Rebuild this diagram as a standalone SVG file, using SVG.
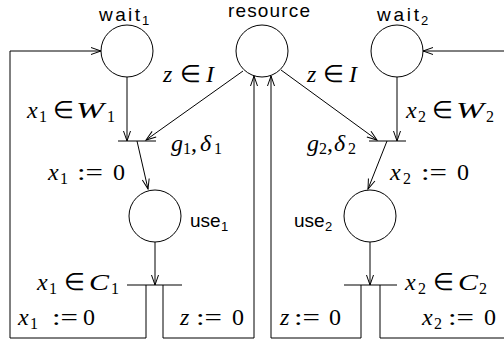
<svg xmlns="http://www.w3.org/2000/svg" width="504" height="343" viewBox="0 0 504 343">
<style>
.n{fill:none;stroke:#000;stroke-width:1}
.c{fill:none;stroke:#000;stroke-width:1}
.bar{stroke:#000;stroke-width:1.2}
.sans{font-family:"Liberation Sans",Arial,sans-serif;font-size:19px;fill:#000}
.ss{font-size:13px}
.m{font-family:"Liberation Serif","Times New Roman",serif;font-size:24px;fill:#000}
.i{font-style:italic}
.ms{font-size:16px}
</style>
<defs>
<marker id="ah" markerUnits="userSpaceOnUse" markerWidth="14" markerHeight="10" refX="0" refY="0" viewBox="-11 -5 12 10" orient="auto">
<path d="M-10,-3.5 L0,0 L-10,3.5" fill="none" stroke="#000" stroke-width="1"/>
</marker>
</defs>
<rect width="504" height="343" fill="#fff"/>
<g id="wait1"><circle class="n" cx="127" cy="51" r="26"/><text class="sans" y="21"><tspan x="99" textLength="41">wait</tspan><tspan class="ss" x="142" y="25">1</tspan></text></g>
<g id="resource"><circle class="n" cx="262" cy="51" r="26"/><text class="sans" x="228" y="17" textLength="82">resource</text></g>
<g id="wait2"><circle class="n" cx="397" cy="51" r="26"/><text class="sans" y="21"><tspan x="377" textLength="42">wait</tspan><tspan class="ss" x="421" y="25">2</tspan></text></g>
<g id="use1"><circle class="n" cx="155" cy="216" r="26"/><text class="sans" y="227"><tspan x="190">use</tspan><tspan class="ss" x="221" y="231">1</tspan></text></g>
<g id="use2"><circle class="n" cx="370" cy="216" r="26"/><text class="sans" y="227"><tspan x="294">use</tspan><tspan class="ss" x="325" y="231">2</tspan></text></g>
<g id="t1"><line class="bar" x1="118" y1="141" x2="156" y2="141"/></g>
<g id="t2"><line class="bar" x1="369" y1="141" x2="406" y2="141"/></g>
<g id="t3"><line class="bar" x1="127" y1="285" x2="182" y2="285"/></g>
<g id="t4"><line class="bar" x1="344" y1="285" x2="397" y2="285"/></g>
<g id="connectors">
<line class="c" x1="127" y1="77" x2="127" y2="141" marker-end="url(#ah)"/>
<line class="c" x1="243" y1="71" x2="146" y2="140" marker-end="url(#ah)"/>
<line class="c" x1="137" y1="141" x2="148" y2="189" marker-end="url(#ah)"/>
<line class="c" x1="155" y1="242" x2="155" y2="285" marker-end="url(#ah)"/>
<polyline class="c" points="146,285 146,338 10,338 10,51 101,51" marker-end="url(#ah)"/>
<polyline class="c" points="163,285 163,338 254,338 254,76" marker-end="url(#ah)"/>
<line class="c" x1="281" y1="70" x2="377" y2="140" marker-end="url(#ah)"/>
<line class="c" x1="397" y1="77" x2="397" y2="141" marker-end="url(#ah)"/>
<line class="c" x1="387" y1="141" x2="368" y2="189" marker-end="url(#ah)"/>
<line class="c" x1="370" y1="242" x2="370" y2="285" marker-end="url(#ah)"/>
<polyline class="c" points="361,285 361,338 271,338 271,76" marker-end="url(#ah)"/>
<polyline class="c" points="380,285 380,338 505,338"/>
<line class="c" x1="505" y1="51" x2="423" y2="51" marker-end="url(#ah)"/>
</g>
<g id="labels">
<text class="m" y="82"><tspan class="i" x="163">z</tspan><tspan x="180">∈</tspan><tspan class="i" x="206">I</tspan></text>
<text class="m" y="82"><tspan class="i" x="307">z</tspan><tspan x="323">∈</tspan><tspan class="i" x="349">I</tspan></text>
<text class="m" y="118"><tspan class="i" x="27">x</tspan><tspan class="ms" x="39" y="122">1</tspan><tspan x="53" y="118">∈</tspan><tspan class="i" x="76" textLength="28" lengthAdjust="spacingAndGlyphs">W</tspan><tspan class="ms" x="107" y="122">1</tspan></text>
<text class="m" y="118"><tspan class="i" x="406">x</tspan><tspan class="ms" x="418" y="122">2</tspan><tspan x="432" y="118">∈</tspan><tspan class="i" x="456" textLength="28" lengthAdjust="spacingAndGlyphs">W</tspan><tspan class="ms" x="486" y="122">2</tspan></text>
<text class="m" y="151"><tspan class="i" x="171">g</tspan><tspan class="ms" x="183" y="154">1</tspan><tspan x="191" y="151">,</tspan><tspan class="i" x="200">δ</tspan><tspan class="ms" x="214" y="154">1</tspan></text>
<text class="m" y="151"><tspan class="i" x="307">g</tspan><tspan class="ms" x="319" y="154">2</tspan><tspan x="327" y="151">,</tspan><tspan class="i" x="334">δ</tspan><tspan class="ms" x="348" y="154">2</tspan></text>
<text class="m" y="180"><tspan class="i" x="48">x</tspan><tspan class="ms" x="60" y="184">1</tspan><tspan x="77" y="180" textLength="26" lengthAdjust="spacingAndGlyphs">:=</tspan><tspan x="113">0</tspan></text>
<text class="m" y="180"><tspan class="i" x="390">x</tspan><tspan class="ms" x="403" y="184">2</tspan><tspan x="421" y="180" textLength="26" lengthAdjust="spacingAndGlyphs">:=</tspan><tspan x="457">0</tspan></text>
<text class="m" y="290"><tspan class="i" x="37">x</tspan><tspan class="ms" x="49" y="294">1</tspan><tspan x="64" y="290">∈</tspan><tspan class="i" x="89" textLength="20" lengthAdjust="spacingAndGlyphs">C</tspan><tspan class="ms" x="111" y="294">1</tspan></text>
<text class="m" y="290"><tspan class="i" x="405">x</tspan><tspan class="ms" x="418" y="294">2</tspan><tspan x="433" y="290">∈</tspan><tspan class="i" x="458" textLength="20" lengthAdjust="spacingAndGlyphs">C</tspan><tspan class="ms" x="479" y="294">2</tspan></text>
<text class="m" y="325"><tspan class="i" x="18">x</tspan><tspan class="ms" x="30" y="329">1</tspan><tspan x="52" y="325" textLength="26" lengthAdjust="spacingAndGlyphs">:=</tspan><tspan x="83">0</tspan></text>
<text class="m" y="325"><tspan class="i" x="180">z</tspan><tspan x="196" textLength="26" lengthAdjust="spacingAndGlyphs">:=</tspan><tspan x="232">0</tspan></text>
<text class="m" y="325"><tspan class="i" x="280">z</tspan><tspan x="294" textLength="26" lengthAdjust="spacingAndGlyphs">:=</tspan><tspan x="329">0</tspan></text>
<text class="m" y="325"><tspan class="i" x="422">x</tspan><tspan class="ms" x="434" y="329">2</tspan><tspan x="448" y="325" textLength="26" lengthAdjust="spacingAndGlyphs">:=</tspan><tspan x="484">0</tspan></text>
</g>
</svg>
